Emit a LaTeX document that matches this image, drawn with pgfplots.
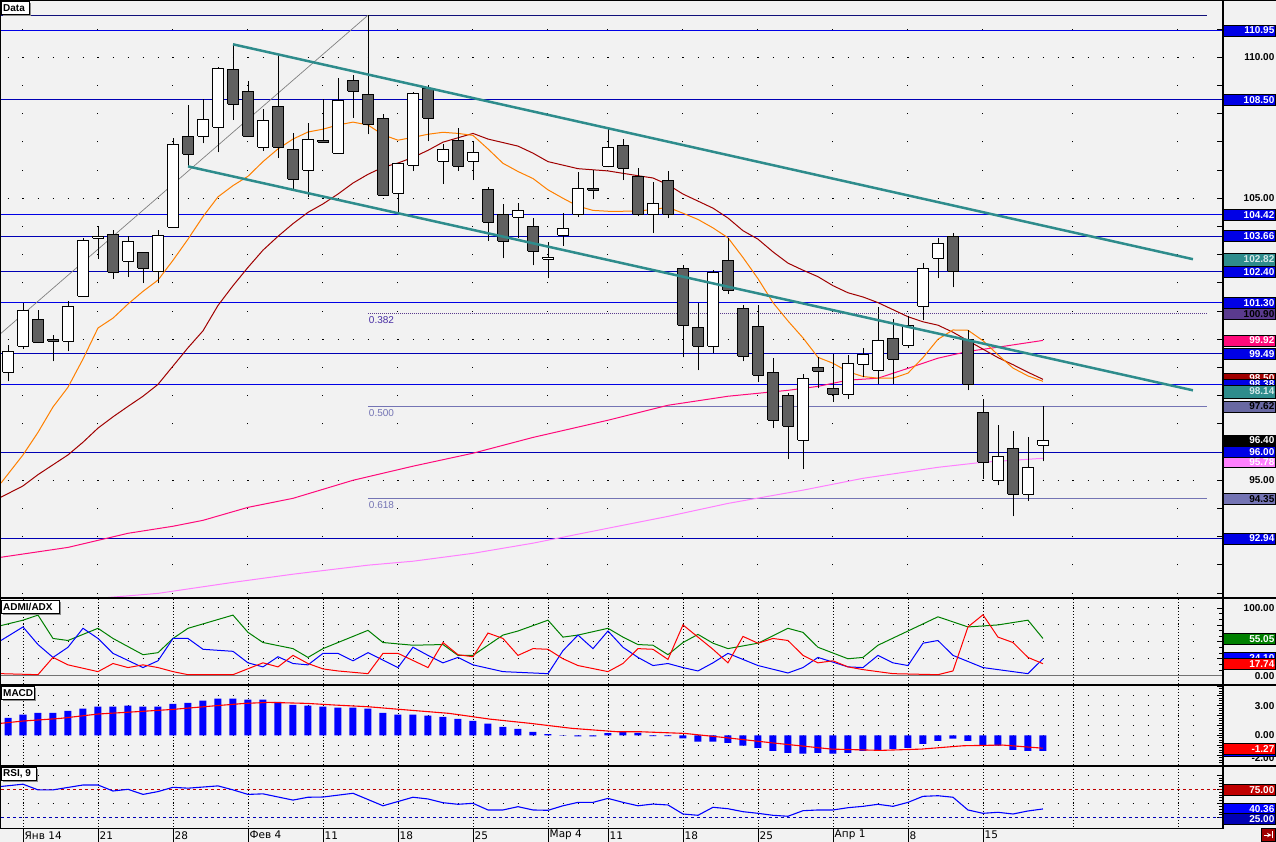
\documentclass[border=0pt]{standalone}
\usepackage{pgfplots}
\pgfplotsset{compat=1.18}
\usepackage{fontspec}
\setmainfont{Liberation Sans}
\newfontfamily\djv{DejaVu Sans}

\definecolor{bg}{HTML}{F2F2F2}
\definecolor{cdark}{HTML}{606060}
\definecolor{hl}{HTML}{0000E6}
\definecolor{hld}{HTML}{0000B4}
\definecolor{navy}{HTML}{10107A}
\definecolor{chan}{HTML}{2E8C8C}
\definecolor{fib}{HTML}{7474B4}
\definecolor{fibd}{HTML}{5A3A8E}
\definecolor{maorange}{HTML}{FF8000}
\definecolor{madred}{HTML}{A00000}
\definecolor{mapink}{HTML}{FF0A7A}
\definecolor{malpink}{HTML}{FF80FF}
\definecolor{adxg}{HTML}{008000}
\definecolor{rsired}{HTML}{C00000}
\definecolor{lblue}{HTML}{0000FF}

\newcommand\lb{\bfseries\fontsize{10}{12}\selectfont}

\pgfplotsset{
  panel/.style={scale only axis, width=1221pt, anchor=south west,
    xmin=-0.4667, xmax=80.933, axis line style={draw=none},
    xtick=\empty, ytick pos=right, yticklabel style={opacity=0},
    tick align=inside, major tick length=5pt, minor tick length=3pt,
    tick style={black, line width=0.8pt}},
  W/.style={draw=black, fill=white, line width=0.9pt},
  D/.style={draw=black, fill=cdark, line width=0.9pt},
  hline/.style={line width=1pt},
}

% candle: style, index, low, body low, body high, high
\newcommand\cdl[6]{%
  \pgfmathsetmacro\xa{#2-0.34}\pgfmathsetmacro\xb{#2+0.34}%
  \addplot[black, line width=0.9pt] coordinates {(#2,#3) (#2,#6)};
  \addplot[#1] coordinates {(\xa,#4) (\xb,#4) (\xb,#5) (\xa,#5) (\xa,#4)};}

% dot columns of the price panel
\newcommand\wkd{\pgfplotsinvokeforeach{1,6,11,16,21,26,31,36,40,45,50,55,60,65,71,78}{%
  \draw[black, line width=1pt, dash pattern=on 1pt off 27.2pt]
    ([yshift=-0.5pt]axis cs:##1,91) -- ([yshift=-0.5pt]axis cs:##1,111.6);}}
% dotted week lines of the indicator panels
\newcommand\wkl[2]{\pgfplotsinvokeforeach{1,6,11,16,21,26,31,36,40,45,50,55,60,65,71,78}{%
  \draw[black, line width=0.8pt, dash pattern=on 1pt off 2pt]
    (axis cs:##1,#1) -- (axis cs:##1,#2);}}
% row of dots, one per trading day
\newcommand\drow[1]{\draw[black, line width=1pt, dash pattern=on 1pt off 14pt]
  ([xshift=-0.5pt]axis cs:0,#1) -- ([xshift=-0.5pt]axis cs:79.2,#1);}

% right hand value tags (y in pixels from the top)
\newcommand\tagb[5][11]{%
  \filldraw[fill=#3, draw=black, line width=0.7pt]
    (1223.5,{842-#2-#1/2}) rectangle (1275.5,{842-#2+#1/2});
  \node[anchor=east, text=#4, font=\lb, inner sep=0pt] at (1274.5,{842-#2}) {#5};}
\newcommand\plain[2]{\node[anchor=east, font=\lb, inner sep=0pt] at (1274.5,{842-#1}) {#2};}
\newcommand\ttl[3]{%
  \fill[black!45] (3,{842-#1-2}) rectangle ({#2+3},{842-#1-15});
  \filldraw[fill=white, draw=black, line width=0.8pt] (1,{842-#1}) rectangle ({#2+1},{842-#1-13});
  \node[anchor=west, font=\lb, inner sep=0pt] at (3,{842-#1-6.7}) {#3};}

\begin{document}
\begin{tikzpicture}[x=1pt,y=1pt]
\fill[bg] (0,0) rectangle (1276,842);
\useasboundingbox (0,0) rectangle (1276,842);

% ---------------- price panel ----------------
\begin{axis}[panel, at={(1pt,244pt)}, height=597pt, ymin=90.826, ymax=111.996,
  ytick={91,92,...,111}]
\wkd
\drow{95}\drow{100}\drow{105}\drow{110}

\addplot[navy, hline] coordinates {(-0.47,111.49) (79.93,111.49)};
\addplot[hl, hline] coordinates {(-0.47,110.95) (81,110.95)};
\addplot[hld, hline] coordinates {(-0.47,108.50) (81,108.50)};
\addplot[hl, hline] coordinates {(-0.47,104.42) (81,104.42)};
\addplot[hld, hline] coordinates {(-0.47,103.66) (81,103.66)};
\addplot[hld, hline] coordinates {(-0.47,102.40) (81,102.40)};
\addplot[hl, hline] coordinates {(-0.47,101.30) (81,101.30)};
\addplot[hld, hline] coordinates {(-0.47,99.49) (81,99.49)};
\addplot[hl, hline] coordinates {(-0.47,98.38) (81,98.38)};
\addplot[hld, hline] coordinates {(-0.47,96.00) (81,96.00)};
\addplot[hld, hline] coordinates {(-0.47,92.94) (81,92.94)};
% fibonacci levels
\addplot[fibd, line width=1pt, dash pattern=on 1pt off 1pt] coordinates {(24,100.90) (79.93,100.90)};
\addplot[fib, line width=1pt] coordinates {(24,97.62) (79.93,97.62)};
\addplot[fib, line width=1pt] coordinates {(24,94.35) (79.93,94.35)};
\node[anchor=north west, inner sep=0pt, text=fibd!80!blue, font=\fontsize{10}{12}\selectfont] at ([yshift=-2.5pt]axis cs:24.05,100.90) {0.382};
\node[anchor=north west, inner sep=0pt, text=fib, font=\fontsize{10}{12}\selectfont] at ([yshift=-2.5pt]axis cs:24.05,97.62) {0.500};
\node[anchor=north west, inner sep=0pt, text=fib, font=\fontsize{10}{12}\selectfont] at ([yshift=-2.5pt]axis cs:24.05,94.35) {0.618};

% moving averages
\addplot[malpink, line width=1pt] coordinates {(6.6,90.84)(10,90.99)(15,91.38)(19,91.67)(24,91.99)(27,92.13)(31,92.41)(35,92.77)(40,93.3)(44,93.72)(48,94.18)(53,94.65)(57,95.07)(62,95.46)(65,95.64)(69,95.78)};
\addplot[mapink, line width=1pt] coordinates {(-0.47,92.27)(4,92.62)(8,93.12)(11,93.37)(13,93.58)(16,94.04)(19,94.36)(23,95.0)(27,95.5)(31,95.96)(35,96.52)(40,97.13)(44,97.66)(48,97.98)(52,98.19)(54,98.33)(56,98.55)(58,98.62)(60,98.97)(62,99.33)(64,99.57)(66,99.72)(69,99.96)};
\addplot[madred, line width=1pt] coordinates {(-0.47,94.4)(1,94.8)(2,95.2)(3,95.55)(4,95.9)(5,96.35)(6,96.85)(7,97.25)(8,97.62)(9,97.98)(10,98.4)(11,99.05)(12,99.7)(13,100.3)(14,101.2)(15,101.9)(16,102.55)(17,103.16)(18,103.65)(19,104.1)(20,104.5)(21,104.8)(22,105.15)(23,105.54)(24,105.85)(25,106.1)(26,106.25)(27,106.45)(28,106.7)(29,106.99)(31,107.3)(32,107.1)(34,106.85)(35,106.6)(36,106.3)(38,106.05)(40,105.97)(42,105.8)(43,105.72)(44,105.48)(45,105.15)(46,104.9)(47,104.65)(48,104.3)(49,103.85)(50,103.55)(51,103.1)(52,102.7)(53,102.45)(54,102.22)(55,101.9)(56,101.65)(57,101.5)(58,101.3)(59,101.05)(60,100.8)(61,100.62)(62,100.5)(63,100.25)(64,99.95)(65,99.65)(66,99.35)(67,99.1)(68,98.83)(69,98.58)};
\addplot[maorange, line width=1pt] coordinates {(-0.47,94.9)(1,95.9)(2,96.7)(3,97.6)(4,98.3)(5,99.3)(6,100.4)(7,100.75)(8,101.25)(9,101.7)(10,102.1)(11,102.8)(12,103.55)(13,104.35)(14,105.05)(15,105.45)(16,105.78)(17,106.3)(18,106.75)(19,107.1)(20,107.35)(21,107.45)(22,107.6)(23,107.7)(24,107.6)(25,107.25)(26,107.06)(27,107.16)(28,107.27)(29,107.34)(30,107.3)(31,107.23)(32,106.75)(33,106.24)(34,105.95)(35,105.7)(36,105.3)(37,105.0)(38,104.72)(39,104.57)(40,104.54)(41,104.54)(42,104.55)(43,104.6)(44,104.68)(45,104.47)(46,104.25)(47,103.95)(48,103.6)(49,102.9)(50,102.15)(51,101.3)(52,100.65)(53,100.05)(54,99.36)(55,99.15)(56,98.85)(57,98.68)(58,98.62)(59,98.62)(60,98.8)(61,99.35)(62,100.0)(63,100.33)(64,100.32)(65,99.95)(66,99.45)(67,98.98)(68,98.7)(69,98.51)};

% gray trend line
\addplot[black!50, line width=0.7pt] coordinates {(-0.47,100.21) (24,111.49)};

% candles
\cdl{W}{0}{98.51}{98.83}{99.57}{99.79}
\cdl{W}{1}{99.65}{99.75}{101.03}{101.28}
\cdl{D}{2}{99.86}{99.89}{100.71}{101.03}
\cdl{D}{3}{99.22}{99.93}{99.99}{100.14}
\cdl{W}{4}{99.57}{99.93}{101.17}{101.35}
\cdl{W}{5}{101.52}{101.52}{103.51}{103.58}
\cdl{W}{6}{102.84}{103.58}{103.65}{104.0}
\cdl{D}{7}{102.13}{102.38}{103.72}{103.87}
\cdl{W}{8}{102.20}{102.77}{103.48}{103.65}
\cdl{D}{9}{101.99}{102.52}{103.09}{103.09}
\cdl{W}{10}{101.99}{102.41}{103.69}{103.87}
\cdl{W}{11}{103.97}{103.97}{106.91}{107.13}
\cdl{D}{12}{106.13}{106.56}{107.2}{108.30}
\cdl{W}{13}{106.95}{107.2}{107.8}{108.51}
\cdl{W}{14}{106.63}{107.52}{109.61}{109.65}
\cdl{D}{15}{107.77}{108.33}{109.57}{110.46}
\cdl{D}{16}{107.2}{107.2}{108.79}{109.15}
\cdl{W}{17}{106.67}{106.81}{107.77}{108.16}
\cdl{D}{18}{106.42}{106.81}{108.26}{110.07}
\cdl{D}{19}{105.25}{105.67}{106.74}{107.30}
\cdl{W}{20}{105.04}{105.99}{107.09}{107.66}
\cdl{D}{21}{106.98}{106.99}{107.05}{108.51}
\cdl{W}{22}{106.6}{106.6}{108.48}{109.26}
\cdl{D}{23}{107.84}{108.79}{109.18}{109.36}
\cdl{D}{24}{107.27}{107.62}{108.69}{111.49}
\cdl{D}{25}{105.11}{105.11}{107.84}{107.98}
\cdl{W}{26}{104.50}{105.18}{106.24}{106.24}
\cdl{W}{27}{105.96}{106.17}{108.72}{108.76}
\cdl{D}{28}{107.02}{107.84}{108.9}{109.01}
\cdl{W}{29}{105.50}{106.31}{106.74}{106.91}
\cdl{D}{30}{105.96}{106.13}{107.06}{107.48}
\cdl{W}{31}{105.64}{106.31}{106.63}{107.02}
\cdl{D}{32}{103.48}{104.15}{105.32}{105.39}
\cdl{D}{33}{102.87}{103.48}{104.43}{104.79}
\cdl{W}{34}{103.58}{104.33}{104.57}{104.82}
\cdl{D}{35}{102.62}{103.12}{104.01}{104.29}
\cdl{W}{36}{102.16}{102.84}{102.91}{103.44}
\cdl{W}{37}{103.30}{103.69}{103.94}{104.47}
\cdl{W}{38}{104.33}{104.43}{105.35}{105.92}
\cdl{D}{39}{104.96}{105.29}{105.35}{105.99}
\cdl{W}{40}{106.1}{106.13}{106.81}{107.45}
\cdl{D}{41}{105.64}{106.06}{106.88}{107.09}
\cdl{D}{42}{104.36}{104.43}{105.78}{106.06}
\cdl{W}{43}{103.76}{104.43}{104.82}{105.57}
\cdl{D}{44}{104.29}{104.43}{105.64}{105.96}
\cdl{D}{45}{99.36}{100.50}{102.52}{102.62}
\cdl{D}{46}{98.90}{99.75}{100.43}{101.28}
\cdl{W}{47}{99.50}{99.75}{102.38}{102.45}
\cdl{D}{48}{101.60}{101.74}{102.80}{103.58}
\cdl{D}{49}{99.22}{99.40}{101.10}{101.21}
\cdl{D}{50}{98.48}{98.72}{100.46}{101.21}
\cdl{D}{51}{96.84}{97.13}{98.83}{99.33}
\cdl{D}{52}{95.74}{96.91}{98.01}{98.09}
\cdl{W}{53}{95.39}{96.42}{98.62}{98.76}
\cdl{D}{54}{98.26}{98.87}{99.01}{99.36}
\cdl{D}{55}{97.77}{98.05}{98.26}{99.47}
\cdl{W}{56}{97.87}{98.05}{99.15}{99.43}
\cdl{W}{57}{98.65}{99.11}{99.47}{99.68}
\cdl{W}{58}{98.40}{98.90}{99.96}{101.13}
\cdl{D}{59}{98.40}{99.29}{100.04}{100.71}
\cdl{W}{60}{99.68}{99.79}{100.50}{100.82}
\cdl{W}{61}{100.67}{101.17}{102.52}{102.70}
\cdl{W}{62}{102.16}{102.87}{103.40}{103.58}
\cdl{D}{63}{101.84}{102.41}{103.65}{103.76}
\cdl{D}{64}{98.19}{98.40}{100.0}{100.32}
\cdl{D}{65}{95.04}{95.64}{97.41}{97.87}
\cdl{W}{66}{94.82}{95.0}{95.85}{96.95}
\cdl{D}{67}{93.72}{94.50}{96.13}{96.74}
\cdl{W}{68}{94.26}{94.50}{95.46}{96.52}
\cdl{W}{69}{95.67}{96.24}{96.42}{97.62}

% price channel
\addplot[chan, line width=2.5pt] coordinates {(15,110.46) (79,102.84)};
\addplot[chan, line width=2.5pt] coordinates {(12,106.13) (79,98.19)};
\end{axis}

% ---------------- ADMI / ADX ----------------
\begin{axis}[panel, at={(1pt,158pt)}, height=85pt, ymin=-12.26, ymax=113.3,
  ytick={0,25,50,75,100}, minor y tick num=2]
\wkl{-12.26}{113.3}
\drow{25}\drow{50}\drow{75}\drow{100}
\addplot[black!55, line width=1pt] coordinates {(-0.47,0) (80.93,0)};
\addplot[adxg, line width=1pt] coordinates {(-0.47,74)(1,82)(2,89.5)(3,55)(4,52)(6,70)(7,55)(9,31)(10,34)(11,55)(12,70)(15,89.5)(16,64)(17,49)(19,40)(20,27)(21,40)(24,67)(25,49)(27,45)(29,46)(30,30)(31,30)(33,60)(34,66)(36,82)(37,57)(38,60)(40,70)(41,57)(42,46)(43,45)(44,31)(45,49)(46,61)(47,48)(48,40)(50,48)(52,70)(53,64)(54,42)(56,25)(57,27)(58,45)(60,66)(62,87)(64,72)(66,75)(68,82)(69,55)};
\addplot[lblue, line width=1pt] coordinates {(-0.47,52)(1,72)(2,46)(3,27)(4,42)(5,70)(6,55)(7,33)(9,12)(10,22)(11,55)(12,55)(13,39)(15,36)(16,19)(17,13)(18,28)(19,18)(20,16)(21,33)(22,33)(23,22)(24,34)(26,12)(27,42)(28,30)(29,19)(30,27)(31,16)(33,6)(36,3)(37,37)(38,60)(39,40)(40,66)(41,42)(42,27)(43,15)(44,18)(45,12)(46,7)(47,19)(48,33)(50,15)(52,4)(53,12)(54,27)(56,13)(57,12)(58,30)(59,19)(60,15)(61,48)(62,52)(63,30)(65,12)(68,3)(69,25)};
\addplot[red, line width=1pt] coordinates {(-0.47,3)(2,1.5)(3,27)(4,16)(6,6)(7,18)(8,12)(9,16)(10,12)(11,6)(12,1.5)(15,1.5)(17,19)(18,13)(19,30)(20,18)(21,10)(22,7)(24,3)(25,33)(26,33)(28,12)(29,49)(30,31)(31,28)(32,63)(33,55)(34,30)(35,40)(36,39)(37,25)(38,15)(40,6)(41,18)(42,40)(43,39)(44,24)(45,75)(46,57)(47,39)(48,19)(49,58)(50,48)(51,55)(52,52)(53,30)(54,19)(55,22)(56,13)(57,9)(59,3)(62,1.5)(63,7)(64,72)(65,90)(66,57)(67,49)(68,27)(69,17.7)};
\end{axis}

% ---------------- MACD ----------------
\begin{axis}[panel, at={(1pt,77pt)}, height=79pt, ymin=-3, ymax=5,
  ytick={-3,...,5}, minor y tick num=3]
\wkl{-3}{5}
\drow{-2}\drow{-1}\drow{0}\drow{1}\drow{2}\drow{3}\drow{4}
\addplot[ybar, bar width=7pt, fill=lblue, draw=none] coordinates {
(0,1.78)(1,2.09)(2,2.29)(3,2.29)(4,2.49)(5,2.70)(6,2.90)(7,2.90)(8,3.0)(9,2.90)
(10,2.90)(11,3.20)(12,3.30)(13,3.51)(14,3.71)(15,3.71)(16,3.61)(17,3.61)(18,3.40)(19,3.10)
(20,3.0)(21,2.90)(22,2.80)(23,2.80)(24,2.70)(25,2.29)(26,2.09)(27,2.09)(28,1.99)(29,1.88)
(30,1.68)(31,1.48)(32,1.18)(33,0.87)(34,0.67)(35,0.36)(36,0.13)(37,0.02)(38,-0.1)(39,-0.1)
(40,0.22)(41,0.32)(42,0.24)(43,-0.08)(44,-0.08)(45,-0.30)(46,-0.64)(47,-0.64)(48,-0.75)(49,-1.05)
(50,-1.26)(51,-1.56)(52,-1.76)(53,-1.86)(54,-1.76)(55,-1.86)(56,-1.76)(57,-1.56)(58,-1.46)(59,-1.36)
(60,-1.26)(61,-0.85)(62,-0.55)(63,-0.34)(64,-0.55)(65,-0.95)(66,-1.05)(67,-1.46)(68,-1.56)(69,-1.56)};
\addplot[red, line width=1.1pt] coordinates {(-0.47,1.22)(1,1.45)(3.5,1.72)(6,2.16)(8.5,2.39)(11,2.63)(13.6,2.97)(15.8,3.24)(17.4,3.34)(19.9,3.24)(21.8,3.07)(24,2.9)(26.7,2.56)(29.4,2.23)(32.1,1.65)(34.8,1.22)(37.6,0.71)(40.6,0.37)(42.1,0.37)(45.1,0.2)(47.9,-0.24)(50.9,-0.75)(54.9,-1.39)(58.2,-1.52)(60.9,-1.39)(63.7,-1.05)(66.3,-0.98)(69,-1.3)};
\end{axis}

% ---------------- RSI ----------------
\begin{axis}[panel, at={(1pt,15pt)}, height=60pt, ymin=8.6, ymax=114.3,
  ytick={25,50,75,100}, minor y tick num=4]
\wkl{8.6}{114.3}
\drow{50}\drow{100}
\addplot[rsired, line width=1pt, dash pattern=on 3pt off 3pt] coordinates {(-0.47,75) (80.93,75)};
\addplot[hld, line width=1pt, dash pattern=on 3pt off 3pt] coordinates {(-0.47,25) (80.93,25)};
\addplot[lblue, line width=1.1pt] coordinates {(-0.47,80)(1,84)(2,74)(3,74)(5,82.6)(6,82.6)(7,72)(8,75)(9,66)(10,71)(11,78.5)(12,77)(14,81)(15,74)(16,66)(17,67)(19,56)(20,61)(21,61.4)(23,68)(25,46)(27,61)(28,58)(29,51.4)(30,48.6)(31,50.3)(32,38.6)(33,38.6)(34,44.4)(35,38.6)(36,38)(37,46)(38,52)(39,52)(40,59)(41,52)(42,46)(43,49)(44,47.4)(45,31.5)(46,29.2)(47,43.3)(48,40.8)(49,35.6)(50,32.7)(51,29.2)(52,27.5)(53,37.3)(54,38.6)(55,38.6)(56,42.6)(57,45)(58,48.6)(59,45)(60,52)(61,62.6)(62,63.7)(63,61)(64,38.6)(65,32.7)(66,34.5)(67,31.5)(68,36.8)(69,40.4)};
\end{axis}

% ---------------- frames ----------------
\draw[black, line width=1.2pt] (0,841.4) -- (1276,841.4);
\draw[black, line width=1pt] (0.5,14) -- (0.5,842);
\draw[black, line width=2pt] (0,243.5) -- (1276,243.5);
\draw[black, line width=2pt] (0,156.5) -- (1276,156.5);
\draw[black, line width=2pt] (0,75.5) -- (1276,75.5);
\draw[black, line width=1pt] (0,13.5) -- (1223.5,13.5);
\draw[black, line width=1.5pt] (1222.8,13.5) -- (1222.8,842);

% date axis
\foreach \x/\t in {23/Янв 14, 98/21, 173/28, 248/Фев 4, 323/11, 398/18, 473/25,
  548/Мар 4, 608/11, 683/18, 758/25, 833/Апр 1, 908/8, 983/15}{
  \draw[black, line width=0.8pt] (\x,0) -- (\x,13.5);
  \node[anchor=west, inner sep=0pt, font=\djv\fontsize{10.5}{12}\selectfont] at (\x+1.5,6.8) {\t};}

% value tags, price panel
\tagb{30.5}{hl}{white}{110.95}
\plain{57.3}{110.00}
\tagb{99.6}{hl}{white}{108.50}
\plain{198.3}{105.00}
\tagb{214.7}{hl}{white}{104.42}
\tagb{236.2}{hl}{white}{103.66}
\tagb[13]{259.5}{chan}{white!80!chan}{102.82}
\tagb{271.8}{hl}{white}{102.40}
\tagb{302.7}{hl}{white}{101.30}
\tagb{314.2}{fibd}{black}{100.90}
\tagb{340.5}{mapink}{white}{99.92}
\tagb{353.7}{hl}{white}{99.49}
\tagb{378.5}{madred}{white}{98.50}
\tagb{384.5}{hl}{white}{98.38}
\tagb[13]{391.5}{chan}{white!80!chan}{98.14}
\tagb{406.5}{fib!90!black}{black}{97.62}
\tagb{440.5}{black}{white}{96.40}
\tagb{462}{malpink}{white}{95.78}
\tagb{452.1}{hl}{white}{96.00}
\plain{480.1}{95.00}
\tagb{498.7}{fib}{black}{94.35}
\tagb{538.4}{hl}{white}{92.94}
% ADMI
\plain{608}{100.00}
\tagb{639}{adxg}{white}{55.05}
\tagb{658}{lblue}{white}{24.10}
\tagb{664}{red}{white}{17.74}
\plain{676}{0.00}
% MACD
\plain{706}{3.00}
\plain{735.3}{0.00}
\plain{758}{-2.00}
\tagb{751}{lblue}{white}{-1.56}
\tagb{749}{red}{white}{-1.27}
% RSI
\tagb{790}{rsired}{white}{75.00}
\tagb{809}{lblue}{white}{40.36}
\tagb{819}{hld}{white}{25.00}

% panel titles
\ttl{1}{28}{Data}
\ttl{600}{58}{ADMI/ADX}
\ttl{686}{33}{MACD}
\ttl{767}{35}{RSI, 9}

% corner button
\filldraw[fill=madred, draw=black, line width=0.6pt] (1261,0.3) rectangle (1275.7,13.5);
\draw[white, line width=1pt, -stealth] (1264,6.9) -- (1271.5,6.9);
\draw[white, line width=1pt] (1272.5,3.5) -- (1272.5,10.5);
\end{tikzpicture}
\end{document}
